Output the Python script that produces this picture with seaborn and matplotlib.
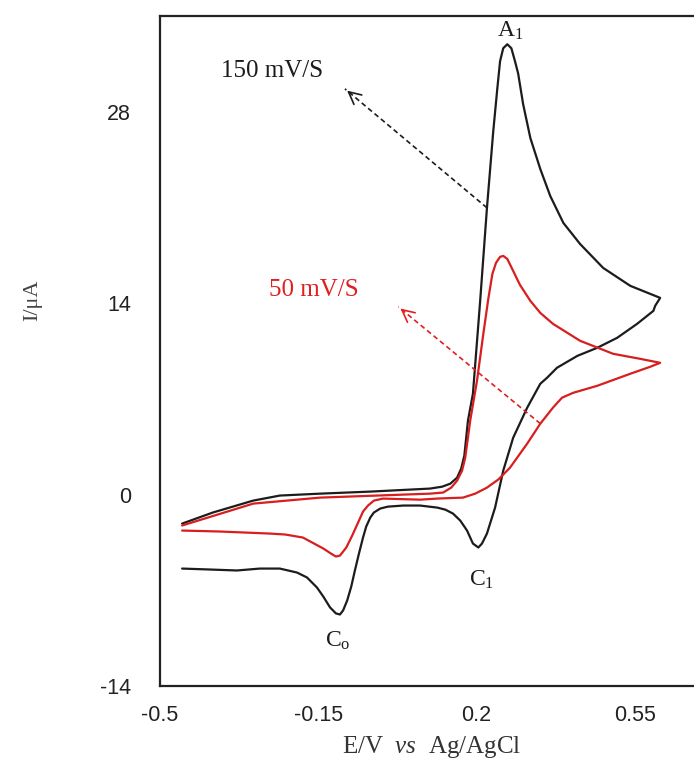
import numpy as np
import pandas as pd
import matplotlib
matplotlib.use("Agg")
import matplotlib.pyplot as plt
import seaborn as sns

# ---- data (E in V vs Ag/AgCl, I in uA) ----
e_150 = [-0.451, -0.383, -0.294, -0.235, -0.146, -0.035, 0.097, 0.124, 0.142, 0.157,
         0.166, 0.173, 0.181, 0.192, 0.208, 0.223, 0.237, 0.246, 0.252, 0.259,
         0.268, 0.277, 0.285, 0.292, 0.303, 0.319, 0.341, 0.363, 0.392, 0.429,
         0.480, 0.540, 0.606,
         0.595, 0.591, 0.555, 0.511, 0.467, 0.423, 0.378, 0.356, 0.341, 0.312,
         0.281, 0.259, 0.241, 0.223, 0.212, 0.204, 0.192, 0.179, 0.164, 0.148,
         0.131, 0.113, 0.075, 0.038, 0.004, -0.013, -0.027, -0.035, -0.044, -0.051,
         -0.060, -0.069, -0.077, -0.086, -0.095, -0.102, -0.111, -0.124, -0.139,
         -0.153, -0.175, -0.197, -0.235, -0.279, -0.330, -0.389, -0.451]
i_150 = [-2.12, -1.31, -0.44, -0.07, 0.07, 0.22, 0.44, 0.58, 0.80, 1.24,
         1.90, 2.85, 5.41, 7.38, 14.17, 20.96, 26.6, 29.73, 31.7, 32.65,
         32.94, 32.65, 31.7, 30.8, 28.56, 26.08, 23.81, 21.84, 19.87, 18.33,
         16.58, 15.27, 14.39,
         13.81, 13.44, 12.49, 11.47, 10.74, 10.15, 9.28, 8.55, 8.11, 6.36,
         4.16, 1.75, -0.95, -2.85, -3.58, -3.87, -3.58, -2.63, -1.90, -1.39,
         -1.10, -0.95, -0.80, -0.80, -0.88, -1.02, -1.31, -1.68, -2.34, -3.14,
         -4.31, -5.55, -6.72, -7.74, -8.47, -8.77, -8.69, -8.25, -7.45,
         -6.79, -6.06, -5.70, -5.41, -5.41, -5.55, -5.48, -5.41]

e_50 = [-0.451, -0.294, -0.146, 0.097, 0.126, 0.144, 0.157, 0.168, 0.175, 0.186,
        0.201, 0.215, 0.226, 0.235, 0.243, 0.252, 0.259, 0.268, 0.281, 0.296,
        0.319, 0.341, 0.369, 0.429, 0.502, 0.562, 0.606,
        0.584, 0.540, 0.467, 0.414, 0.389, 0.369, 0.341, 0.312, 0.274, 0.248,
        0.223, 0.197, 0.170, 0.113, 0.075, -0.007, -0.027, -0.040, -0.051, -0.062,
        -0.075, -0.088, -0.102, -0.111, -0.122, -0.139, -0.184, -0.223, -0.257,
        -0.367, -0.451]
i_50 = [-2.26, -0.66, -0.22, 0.07, 0.15, 0.51, 1.02, 1.75, 2.70, 5.41,
        8.33, 11.76, 14.32, 16.14, 16.95, 17.39, 17.46, 17.24, 16.36, 15.34,
        14.17, 13.29, 12.49, 11.25, 10.30, 9.93, 9.64,
        9.35, 8.84, 7.96, 7.45, 7.09, 6.36, 5.19, 3.73, 1.97, 1.10,
        0.51, 0.07, -0.22, -0.29, -0.37, -0.29, -0.44, -0.80, -1.24, -2.05,
        -3.00, -3.87, -4.46, -4.53, -4.31, -3.94, -3.14, -2.92, -2.85,
        -2.70, -2.63]

x_ticks = [-0.5, -0.15, 0.2, 0.55]
x_tick_labels = ["-0.5", "-0.15", "0.2", "0.55"]
y_ticks = [-14, 0, 14, 28]
y_tick_labels = ["-14", "0", "14", "28"]

df = pd.concat([
    pd.DataFrame({"E": e_150, "I": i_150, "rate": "150 mV/S"}),
    pd.DataFrame({"E": e_50, "I": i_50, "rate": "50 mV/S"}),
], ignore_index=True)

sns.set_theme(style="white")
plt.rcParams["font.family"] = ["Liberation Serif", "DejaVu Serif"]
plt.rcParams["mathtext.fontset"] = "custom"
plt.rcParams["mathtext.rm"] = "Liberation Serif"
plt.rcParams["mathtext.it"] = "Liberation Serif:italic"

fig = plt.figure(figsize=(6.94, 7.67), dpi=100)
ax = fig.add_axes([0.2305, 0.1056, 0.782, 0.8734])

palette = {"150 mV/S": "#1c1c1c", "50 mV/S": "#d81e1e"}
sns.lineplot(data=df, x="E", y="I", hue="rate", units="rate", estimator=None,
             sort=False, palette=palette, linewidth=1.6, legend=False, ax=ax)

ax.set_xlim(-0.5, 0.70)
ax.set_ylim(-14, 35)
ax.set_xticks(x_ticks)
ax.set_xticklabels(x_tick_labels, family=["Liberation Sans", "DejaVu Sans"], fontsize=15.5, color="#222222")
ax.set_yticks(y_ticks)
ax.set_yticklabels(y_tick_labels, family=["Liberation Sans", "DejaVu Sans"], fontsize=15.5, color="#222222")
ax.tick_params(axis="x", length=0, pad=14)
ax.tick_params(axis="y", length=0, pad=21)
for s in ax.spines.values():
    s.set_color("#222222")
    s.set_linewidth(1.6)

ax.set_xlabel(r"E/V  $\it{vs}$  Ag/AgCl", fontsize=18, color="#333333")
ax.xaxis.label.set_va("center")
ax.xaxis.set_label_coords(0.5, -0.091)
ax.set_ylabel("I/μA", fontsize=16, color="#444444")
ax.yaxis.label.set_va("center")
ax.yaxis.set_label_coords(-0.235, 0.576)

# annotations
ink = "#1c1c1c"
ax.text(0.274, 33.9, r"A$_1$", fontsize=17, ha="center", va="center", color=ink)
ax.text(0.212, -6.2, r"C$_1$", fontsize=17, ha="center", va="center", color=ink)
ax.text(-0.106, -10.7, r"C$_\mathrm{o}$", fontsize=17, ha="center", va="center", color=ink)
ax.text(-0.252, 31.0, "150 mV/S", fontsize=18, ha="center", va="center", color=ink)
ax.text(-0.159, 15.0, "50 mV/S", fontsize=18, ha="center", va="center", color="#e02020")

def dashed_arrow(x0, y0, x1, y1, color):
    ax.plot([x0, x1], [y0, y1], ls=(0, (3, 2)), color=color, lw=1.2)
    ax.annotate("", xy=(x1, y1), xytext=(x1 + (x0 - x1) * 0.05, y1 + (y0 - y1) * 0.05),
                arrowprops=dict(arrowstyle="->", color=color, lw=1.2, mutation_scale=22))

dashed_arrow(0.223, 20.98, -0.091, 29.68, ink)
dashed_arrow(0.341, 5.19, 0.027, 13.74, "#e02020")

fig.savefig("out.png", dpi=100)
